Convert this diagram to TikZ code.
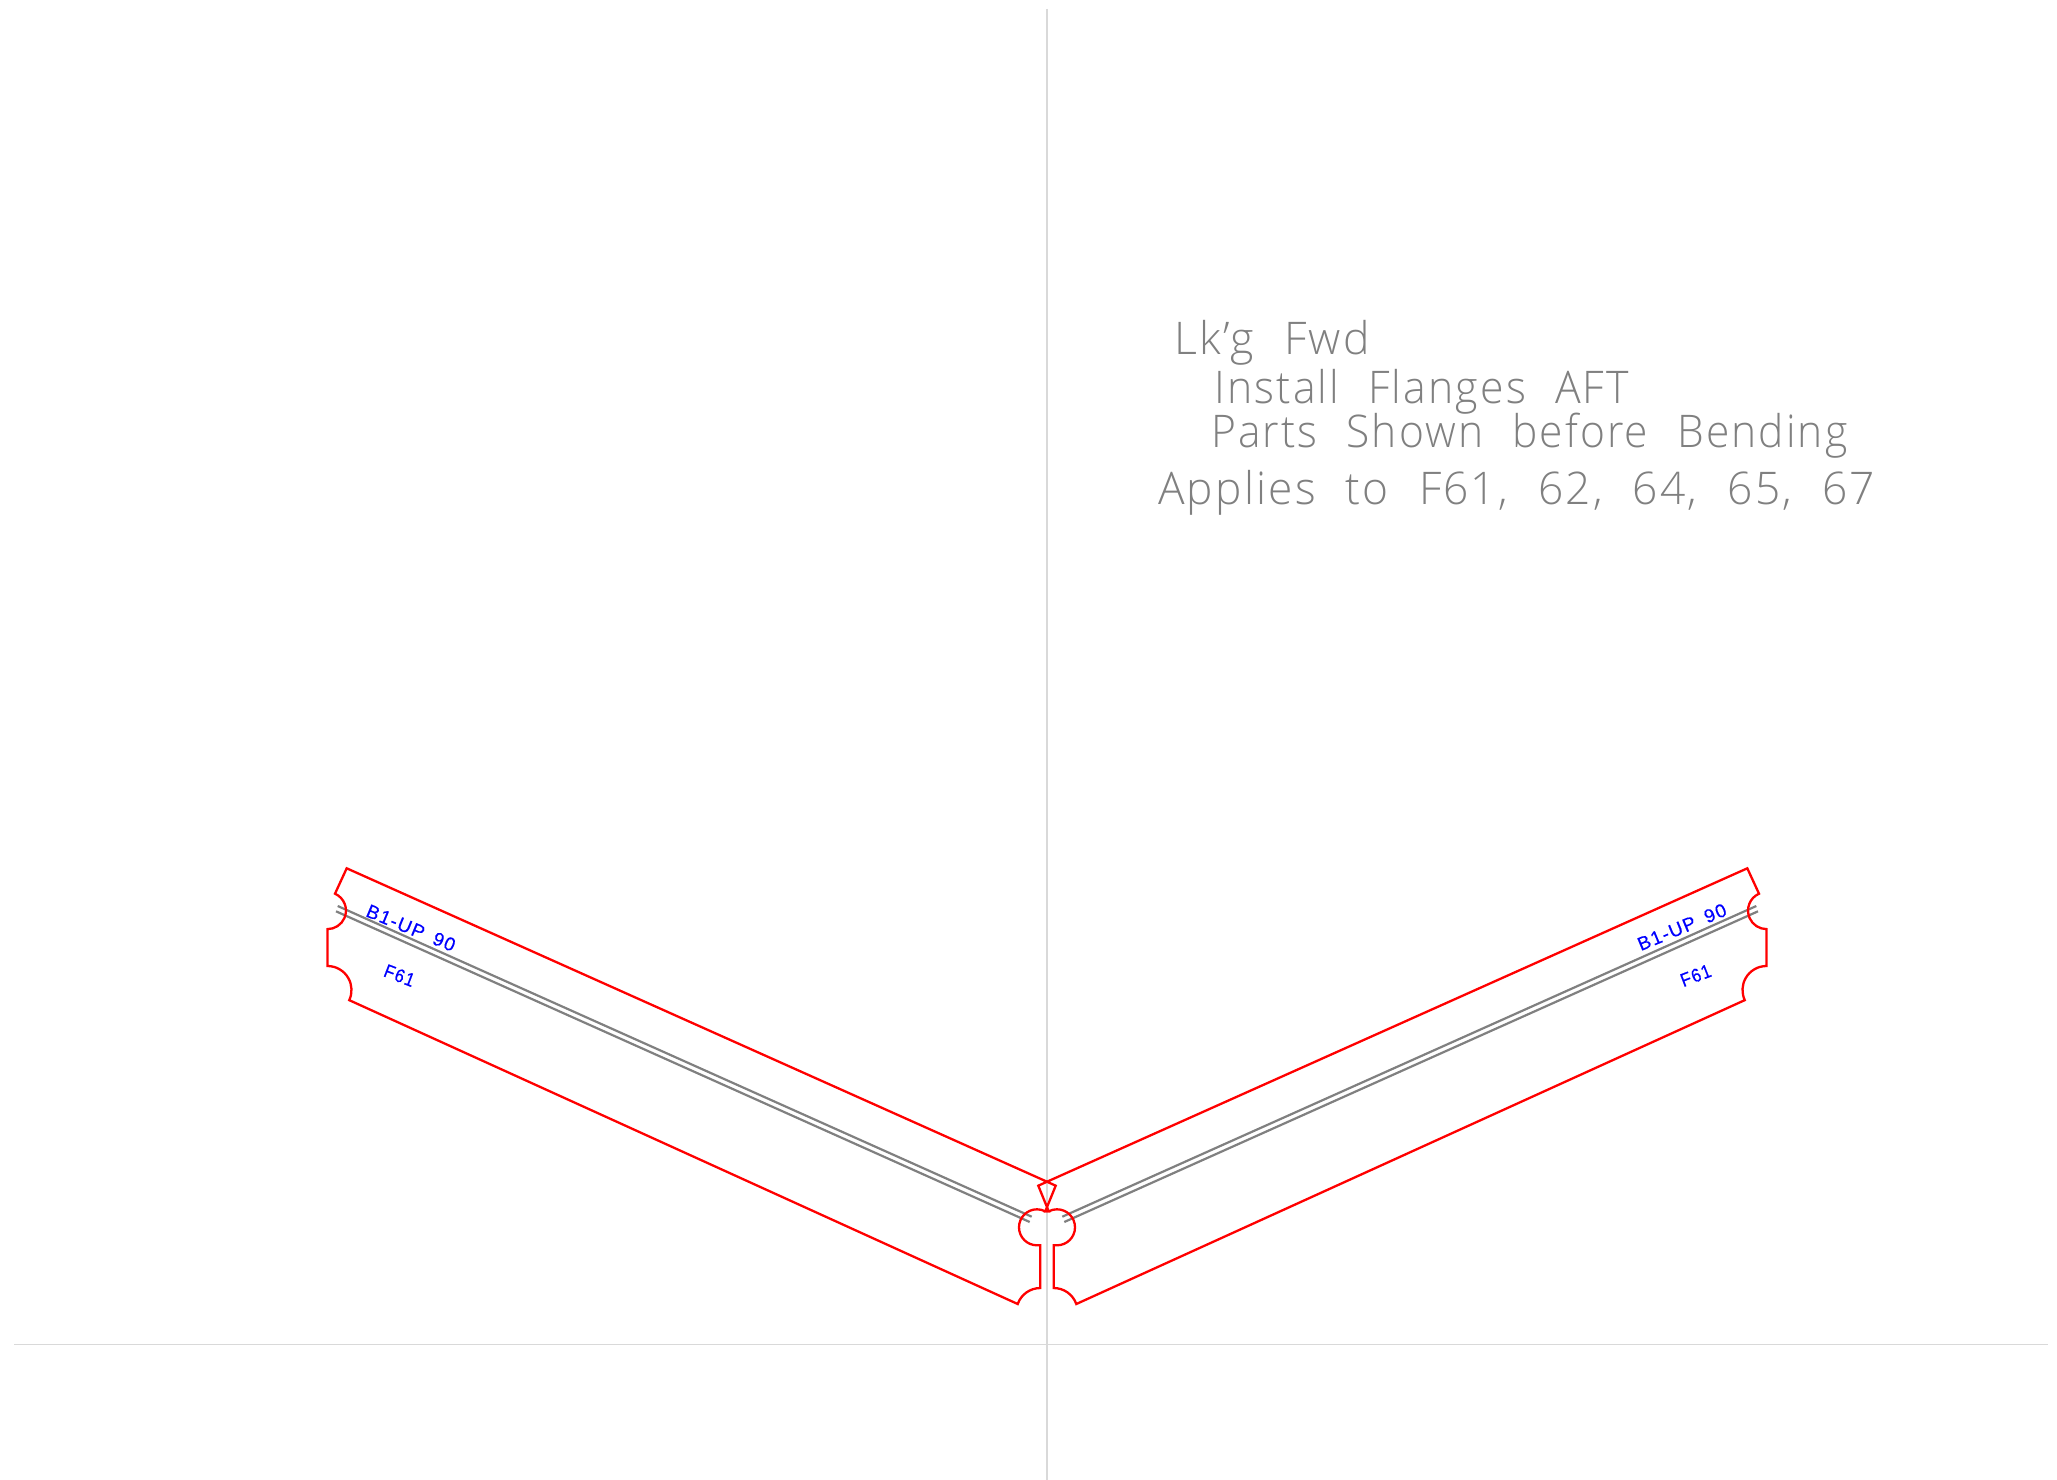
\documentclass[tikz,border=0pt]{standalone}
\usepackage{fontspec}
\usepackage{graphicx}
\setmainfont{Liberation Sans}
\newfontfamily\notefont[LetterSpace=5,WordSpace=2.2]{Open Sans Light}
\newfontfamily\tagfont[LetterSpace=7,WordSpace=1.6,FakeBold=0.4]{Liberation Sans}
\definecolor{partred}{RGB}{255,0,0}
\definecolor{bendgray}{RGB}{128,128,128}
\definecolor{axisgray}{RGB}{217,217,217}
\begin{document}
\begin{tikzpicture}[x=1pt,y=1pt,line join=miter,
  outline/.style={draw=partred,line width=2.3pt},
  bendline/.style={draw=bendgray,line width=2.2pt},
  axisline/.style={draw=axisgray,line width=1.6pt},
  note/.style={inner sep=0pt,anchor=base west,text=bendgray,font=\notefont\fontsize{45}{45}\selectfont},
  tag/.style={inner sep=0pt,text=blue,font=\tagfont\fontsize{19}{19}\selectfont}]
\useasboundingbox (0,0) rectangle (2057,-1480);
\fill[white] (0,0) rectangle (2057,-1480);
% axes
\draw[axisline] (1047,-9) -- (1047,-1480);
\draw[axisline] (14,-1344.5) -- (2048,-1344.5);
% bend lines
\draw[bendline] (337.7,-906) -- (1031.7,-1216.7);
\draw[bendline] (336,-911.3) -- (1029.7,-1222);
\draw[bendline] (1756.3,-906) -- (1062.3,-1216.7);
\draw[bendline] (1758,-911.3) -- (1064.3,-1222);
% left part
\draw[outline] (1047,-1181.7) -- (346.7,-868.3) -- (335,-893.7)
  arc[start angle=66,end angle=-90,radius=18.5] -- (327.5,-966)
  arc[start angle=90,end angle=-25,radius=24] -- (1017.7,-1304)
  arc[start angle=160.5,end angle=90,radius=24] -- (1040.3,-1245.3) -- (1037,-1245.3)
  arc[start angle=270,end angle=64,radius=18] -- (1048.7,-1211.3)
  -- (1038.3,-1185.7) -- cycle;
% right part
\draw[outline] (1047,-1181.7) -- (1747.3,-868.3) -- (1759,-893.7)
  arc[start angle=114,end angle=270,radius=18.5] -- (1766.5,-966)
  arc[start angle=90,end angle=205,radius=24] -- (1076.3,-1304)
  arc[start angle=19.5,end angle=90,radius=24] -- (1053.7,-1245.3) -- (1057,-1245.3)
  arc[start angle=-90,end angle=116,radius=18] -- (1045.3,-1211.3)
  -- (1055.7,-1185.7) -- cycle;
% labels
\node[tag,rotate=-22.5] (bendL) at (411,-928) {B1-UP 90};
\node[tag,rotate=-21] (partL) at (399.5,-975.5) {\scalebox{.88}[1]{F61}};
\node[tag,rotate=22.5] (bendR) at (1682,-927) {B1-UP 90};
\node[tag,rotate=21] (partR) at (1695.7,-975.5) {\scalebox{.88}[1]{F61}};
% notes
\node[note] (n1) at (1174,-354) {\scalebox{.99}[1]{Lk’g Fwd}};
\node[note] (n2) at (1214,-403) {\scalebox{.95}[1]{Install Flanges AFT}};
\node[note] (n3) at (1211,-447) {\scalebox{.945}[1]{Parts Shown before Bending}};
\node[note] (n4) at (1158,-504) {\scalebox{.984}[1]{Applies to F61, 62, 64, 65, 67}};
\end{tikzpicture}
\end{document}
